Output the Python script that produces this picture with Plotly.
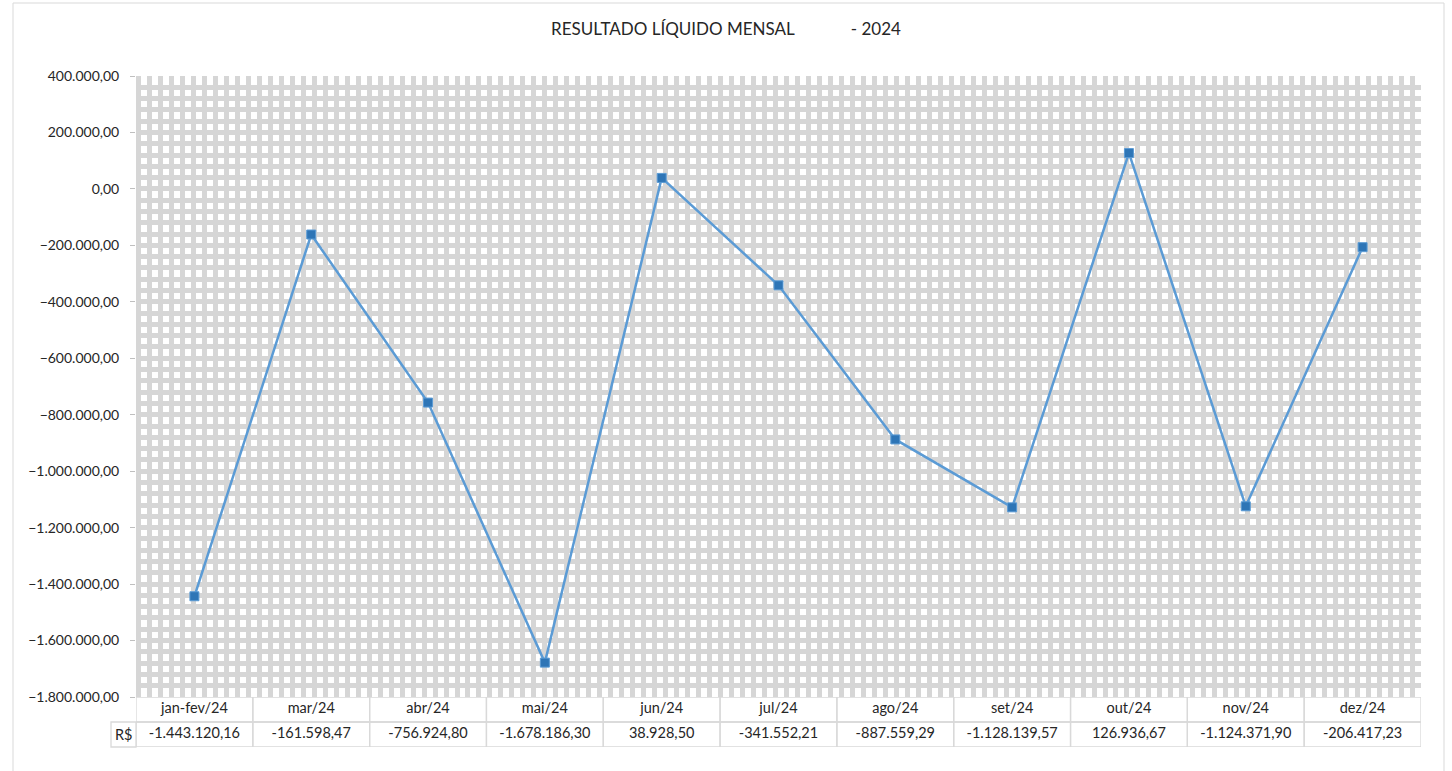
import plotly.graph_objects as go

# data
months = ["jan-fev/24", "mar/24", "abr/24", "mai/24", "jun/24", "jul/24",
          "ago/24", "set/24", "out/24", "nov/24", "dez/24"]
resultado = [-1443120.16, -161598.47, -756924.80, -1678186.30, 38928.50, -341552.21,
             -887559.29, -1128139.57, 126936.67, -1124371.90, -206417.23]
y_ticks = list(range(-1800000, 400001, 200000))

idx = list(range(len(months)))

LINE = "#5b9bd5"
MARK = "#2e75b6"
GRID = "#d6d6d6"
BORDER = "#d9d9d9"
TXT = "#262626"
FONT = "Lato"
FS = 14.5

fig = go.Figure()

# main line
fig.add_trace(go.Scatter(
    x=idx, y=resultado, mode="lines+markers",
    line=dict(color=LINE, width=2.5),
    marker=dict(symbol="square", size=9, color=MARK, line=dict(color=LINE, width=1)),
    xaxis="x", yaxis="y", showlegend=False, hoverinfo="skip"
))

# data table rows (header + values)
fig.add_trace(go.Scatter(
    x=idx, y=[1.5] * len(idx), mode="text", text=months,
    textfont=dict(family=FONT, size=FS, color=TXT),
    xaxis="x2", yaxis="y2", showlegend=False, hoverinfo="skip"
))
fig.add_trace(go.Scatter(
    x=idx, y=[0.5] * len(idx), mode="text", customdata=resultado,
    texttemplate="%{customdata:,.2f}",
    textfont=dict(family=FONT, size=FS, color=TXT),
    xaxis="x2", yaxis="y2", showlegend=False, hoverinfo="skip"
))

shapes = []
for i in idx:
    for r in (0, 1):
        shapes.append(dict(type="rect", xref="x2", yref="y2",
                           x0=i - 0.5, x1=i + 0.5, y0=r, y1=r + 1,
                           line=dict(color=BORDER, width=1.3), layer="above"))
# legend key cell of the table
dom = 50 / 671
shapes.append(dict(type="rect", xref="paper", yref="paper",
                   x0=-25 / 1285, x1=0, y0=0, y1=dom / 2,
                   line=dict(color=BORDER, width=1.3)))
# chart border
shapes.append(dict(type="rect", xref="paper", yref="paper",
                   x0=-123 / 1285, x1=1.0 + 23 / 1285, y0=-40 / 671, y1=1 + 73 / 671,
                   line=dict(color=BORDER, width=1)))

annotations = [dict(xref="paper", yref="paper", x=-12.5 / 1285, y=dom / 4,
                    xanchor="center", yanchor="middle",
                    text="R$", showarrow=False,
                    font=dict(family=FONT, size=FS, color=TXT))]

fig.update_layout(
    width=1452, height=771,
    margin=dict(l=136, r=31, t=76, b=24),
    paper_bgcolor="white", plot_bgcolor="white",
    separators=",.",
    font=dict(family=FONT, size=FS, color=TXT),
    title=dict(text="RESULTADO LÍQUIDO MENSAL" + "\u00a0" * 13 + "-\u00a02024",
               x=0.5, xref="container", y=1 - 29 / 771, yref="container",
               xanchor="center", yanchor="middle",
               font=dict(family=FONT, size=17, color=TXT)),
    xaxis=dict(range=[-0.5, 10.5], showticklabels=False, ticks="",
               showgrid=True, gridcolor=GRID, gridwidth=5,
               tick0=-0.5 + 2.5 / 116.8, dtick=11 / 117, zeroline=False,
               showline=False, fixedrange=True),
    yaxis=dict(domain=[dom, 1], range=[-1800000, 400000],
               tickvals=y_ticks, tickformat=",.2f",
               ticks="outside", ticklen=5, tickcolor="#bfbfbf",
               ticklabelstandoff=8,
               showgrid=True, gridcolor=GRID, gridwidth=5,
               minor=dict(dtick=40000, showgrid=True, gridcolor=GRID, gridwidth=5),
               zeroline=False, showline=False, fixedrange=True,
               tickfont=dict(family=FONT, size=14, color=TXT)),
    xaxis2=dict(range=[-0.5, 10.5], anchor="y2", visible=False, fixedrange=True),
    yaxis2=dict(domain=[0, dom], range=[0, 2], anchor="x2", visible=False, fixedrange=True),
    shapes=shapes, annotations=annotations,
)

# page has a default 8px body margin; drop it so the chart sits at 0,0
fig.write_html("out.html", config={"displayModeBar": False},
               post_script="document.body.style.margin='0px';")
